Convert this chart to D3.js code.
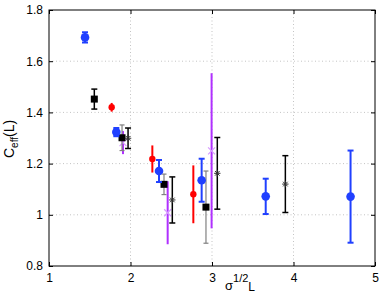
<!DOCTYPE html>
<html><head><meta charset="utf-8">
<script src="https://cdn.jsdelivr.net/npm/d3@7/dist/d3.min.js"></script>
<style>body{margin:0;background:#fff}svg{display:block}text{font-family:"Liberation Sans",Arial,sans-serif}</style>
</head><body>
<script>
// data
const xTicks = [1, 2, 3, 4, 5];
const yTicks = [0.8, 1, 1.2, 1.4, 1.6, 1.8];
const blueX = [1.442, 1.826, 2.35, 2.873, 3.659, 4.70];
const blueY = [1.693, 1.323, 1.171, 1.135, 1.072, 1.071];
const blueE = [0.02, 0.016, 0.043, 0.084, 0.069, 0.18];
const redX = [1.769, 2.268, 2.771];
const redY = [1.42, 1.218, 1.08];
const redE = [0.017, 0.053, 0.113];
const sqX = [1.556, 1.896, 2.411, 2.926];
const sqY = [1.452, 1.301, 1.119, 1.03];
const sqE = [0.039, 0.05, 0.04, 0.141];
const starX = [1.97, 2.513, 3.065, 3.90];
const starY = [1.299, 1.058, 1.162, 1.12];
const starE = [0.04, 0.09, 0.14, 0.111];
const purX = [1.908, 2.456, 2.995];
const purY = [1.282, 1.008, 1.25];
const purE = [0.045, 0.123, 0.303];

const W = 382, H = 296;
const m = {l: 49, t: 10, r: 7, b: 30};
const svg = d3.select("body").append("svg").attr("width", W).attr("height", H);
const x = d3.scaleLinear().domain([1, 5]).range([m.l, W - m.r]);
const y = d3.scaleLinear().domain([0.8, 1.8]).range([H - m.b, m.t]);
const pw = W - m.r - m.l, ph = H - m.b - m.t;

// grid
const grid = svg.append("g");
grid.selectAll(".gx").data(xTicks.slice(1, -1)).join("line")
  .attr("x1", d => x(d)).attr("x2", d => x(d)).attr("y1", m.t).attr("y2", H - m.b)
  .attr("stroke", "#aaa").attr("stroke-width", 0.7).attr("stroke-dasharray", "1,2.5");
grid.selectAll(".gy").data(yTicks.slice(1, -1)).join("line")
  .attr("y1", d => y(d)).attr("y2", d => y(d)).attr("x1", m.l).attr("x2", W - m.r)
  .attr("stroke", "#aaa").attr("stroke-width", 0.7).attr("stroke-dasharray", "1,2.5");

// axes
const fmt = d => String(d);
const ax = (g, a) => { g.call(a); g.select(".domain").remove(); g.selectAll("text").attr("font-size", 12).attr("fill", "#000"); g.selectAll("line").attr("stroke", "#000"); };
svg.append("g").attr("transform", `translate(0,${H - m.b})`)
  .call(g => ax(g, d3.axisBottom(x).tickValues(xTicks).tickFormat(fmt).tickSize(-4).tickPadding(7)));
svg.append("g").attr("transform", `translate(0,${m.t})`)
  .call(g => { ax(g, d3.axisTop(x).tickValues(xTicks).tickFormat("").tickSize(-4)); });
svg.append("g").attr("transform", `translate(${m.l},0)`)
  .call(g => ax(g, d3.axisLeft(y).tickValues(yTicks).tickFormat(fmt).tickSize(-4).tickPadding(6)));
svg.append("g").attr("transform", `translate(${W - m.r},0)`)
  .call(g => ax(g, d3.axisRight(y).tickValues(yTicks).tickFormat("").tickSize(-4)));
svg.append("rect").attr("x", m.l).attr("y", m.t).attr("width", pw).attr("height", ph)
  .attr("fill", "none").attr("stroke", "#000").attr("stroke-width", 1);

const pts = (xs, ys, es) => xs.map((v, i) => ({x: v, y: ys[i], e: es[i]}));
function errbars(data, color, width, cap) {
  const g = svg.append("g").attr("stroke", color).attr("stroke-width", width);
  g.selectAll(".v").data(data).join("line")
    .attr("x1", d => x(d.x)).attr("x2", d => x(d.x))
    .attr("y1", d => y(d.y - d.e)).attr("y2", d => y(d.y + d.e));
  if (cap > 0) {
    [1, -1].forEach(s => g.selectAll(".c" + s).data(data).join("line")
      .attr("x1", d => x(d.x) - cap).attr("x2", d => x(d.x) + cap)
      .attr("y1", d => y(d.y + s * d.e)).attr("y2", d => y(d.y + s * d.e)));
  }
}

// purple
const pur = pts(purX, purY, purE);
errbars(pur, "#b030ff", 2, 0);
svg.append("g").selectAll("path").data(pur).join("path")
  .attr("d", d => { const cx = x(d.x), cy = y(d.y), r = 3.5; return `M${cx-r},${cy-r}L${cx+r},${cy+r}M${cx-r},${cy+r}L${cx+r},${cy-r}`; })
  .attr("stroke", "#d79cff").attr("stroke-width", 1.2).attr("fill", "none");

// squares
const sq = pts(sqX, sqY, sqE);
errbars(sq.slice(0, 1), "#000", 1.5, 3);
errbars(sq.slice(1), "#808080", 1.2, 2.5);
svg.append("g").selectAll("rect").data(sq).join("rect")
  .attr("x", d => x(d.x) - 3.5).attr("y", d => y(d.y) - 3.5).attr("width", 7).attr("height", 7).attr("fill", "#000");

// stars
const st = pts(starX, starY, starE);
errbars(st, "#000", 1.5, 3);
svg.append("g").selectAll("path").data(st).join("path")
  .attr("d", d => { const cx = x(d.x), cy = y(d.y), r = 3.2, q = 2.3; return `M${cx-r},${cy}L${cx+r},${cy}M${cx},${cy-r}L${cx},${cy+r}M${cx-q},${cy-q}L${cx+q},${cy+q}M${cx-q},${cy+q}L${cx+q},${cy-q}`; })
  .attr("stroke", "#333").attr("stroke-width", 1).attr("fill", "none");

// red
const red = pts(redX, redY, redE);
errbars(red, "#ff0000", 2, 0);
svg.append("g").selectAll("circle").data(red).join("circle")
  .attr("cx", d => x(d.x)).attr("cy", d => y(d.y)).attr("r", 3.2).attr("fill", "#ff0000");

// blue
const blue = pts(blueX, blueY, blueE);
errbars(blue, "#2040ff", 2, 3);
svg.append("g").selectAll("circle").data(blue).join("circle")
  .attr("cx", d => x(d.x)).attr("cy", d => y(d.y)).attr("r", 4.3).attr("fill", "#2040ff");

// labels
const xl = svg.append("text").attr("x", 225).attr("y", 290).attr("font-size", 13);
xl.append("tspan").text("σ");
xl.append("tspan").attr("y", 282).attr("font-size", 11).text("1/2");
xl.append("tspan").attr("y", 291).attr("font-size", 12).text("L");

const yl = svg.append("text").attr("transform", "translate(14,158) rotate(-90)").attr("font-size", 14);
yl.append("tspan").text("C");
yl.append("tspan").attr("dy", 4).attr("font-size", 10).text("eff");
yl.append("tspan").attr("dy", -4).text("(L)");
</script>
</body></html>
